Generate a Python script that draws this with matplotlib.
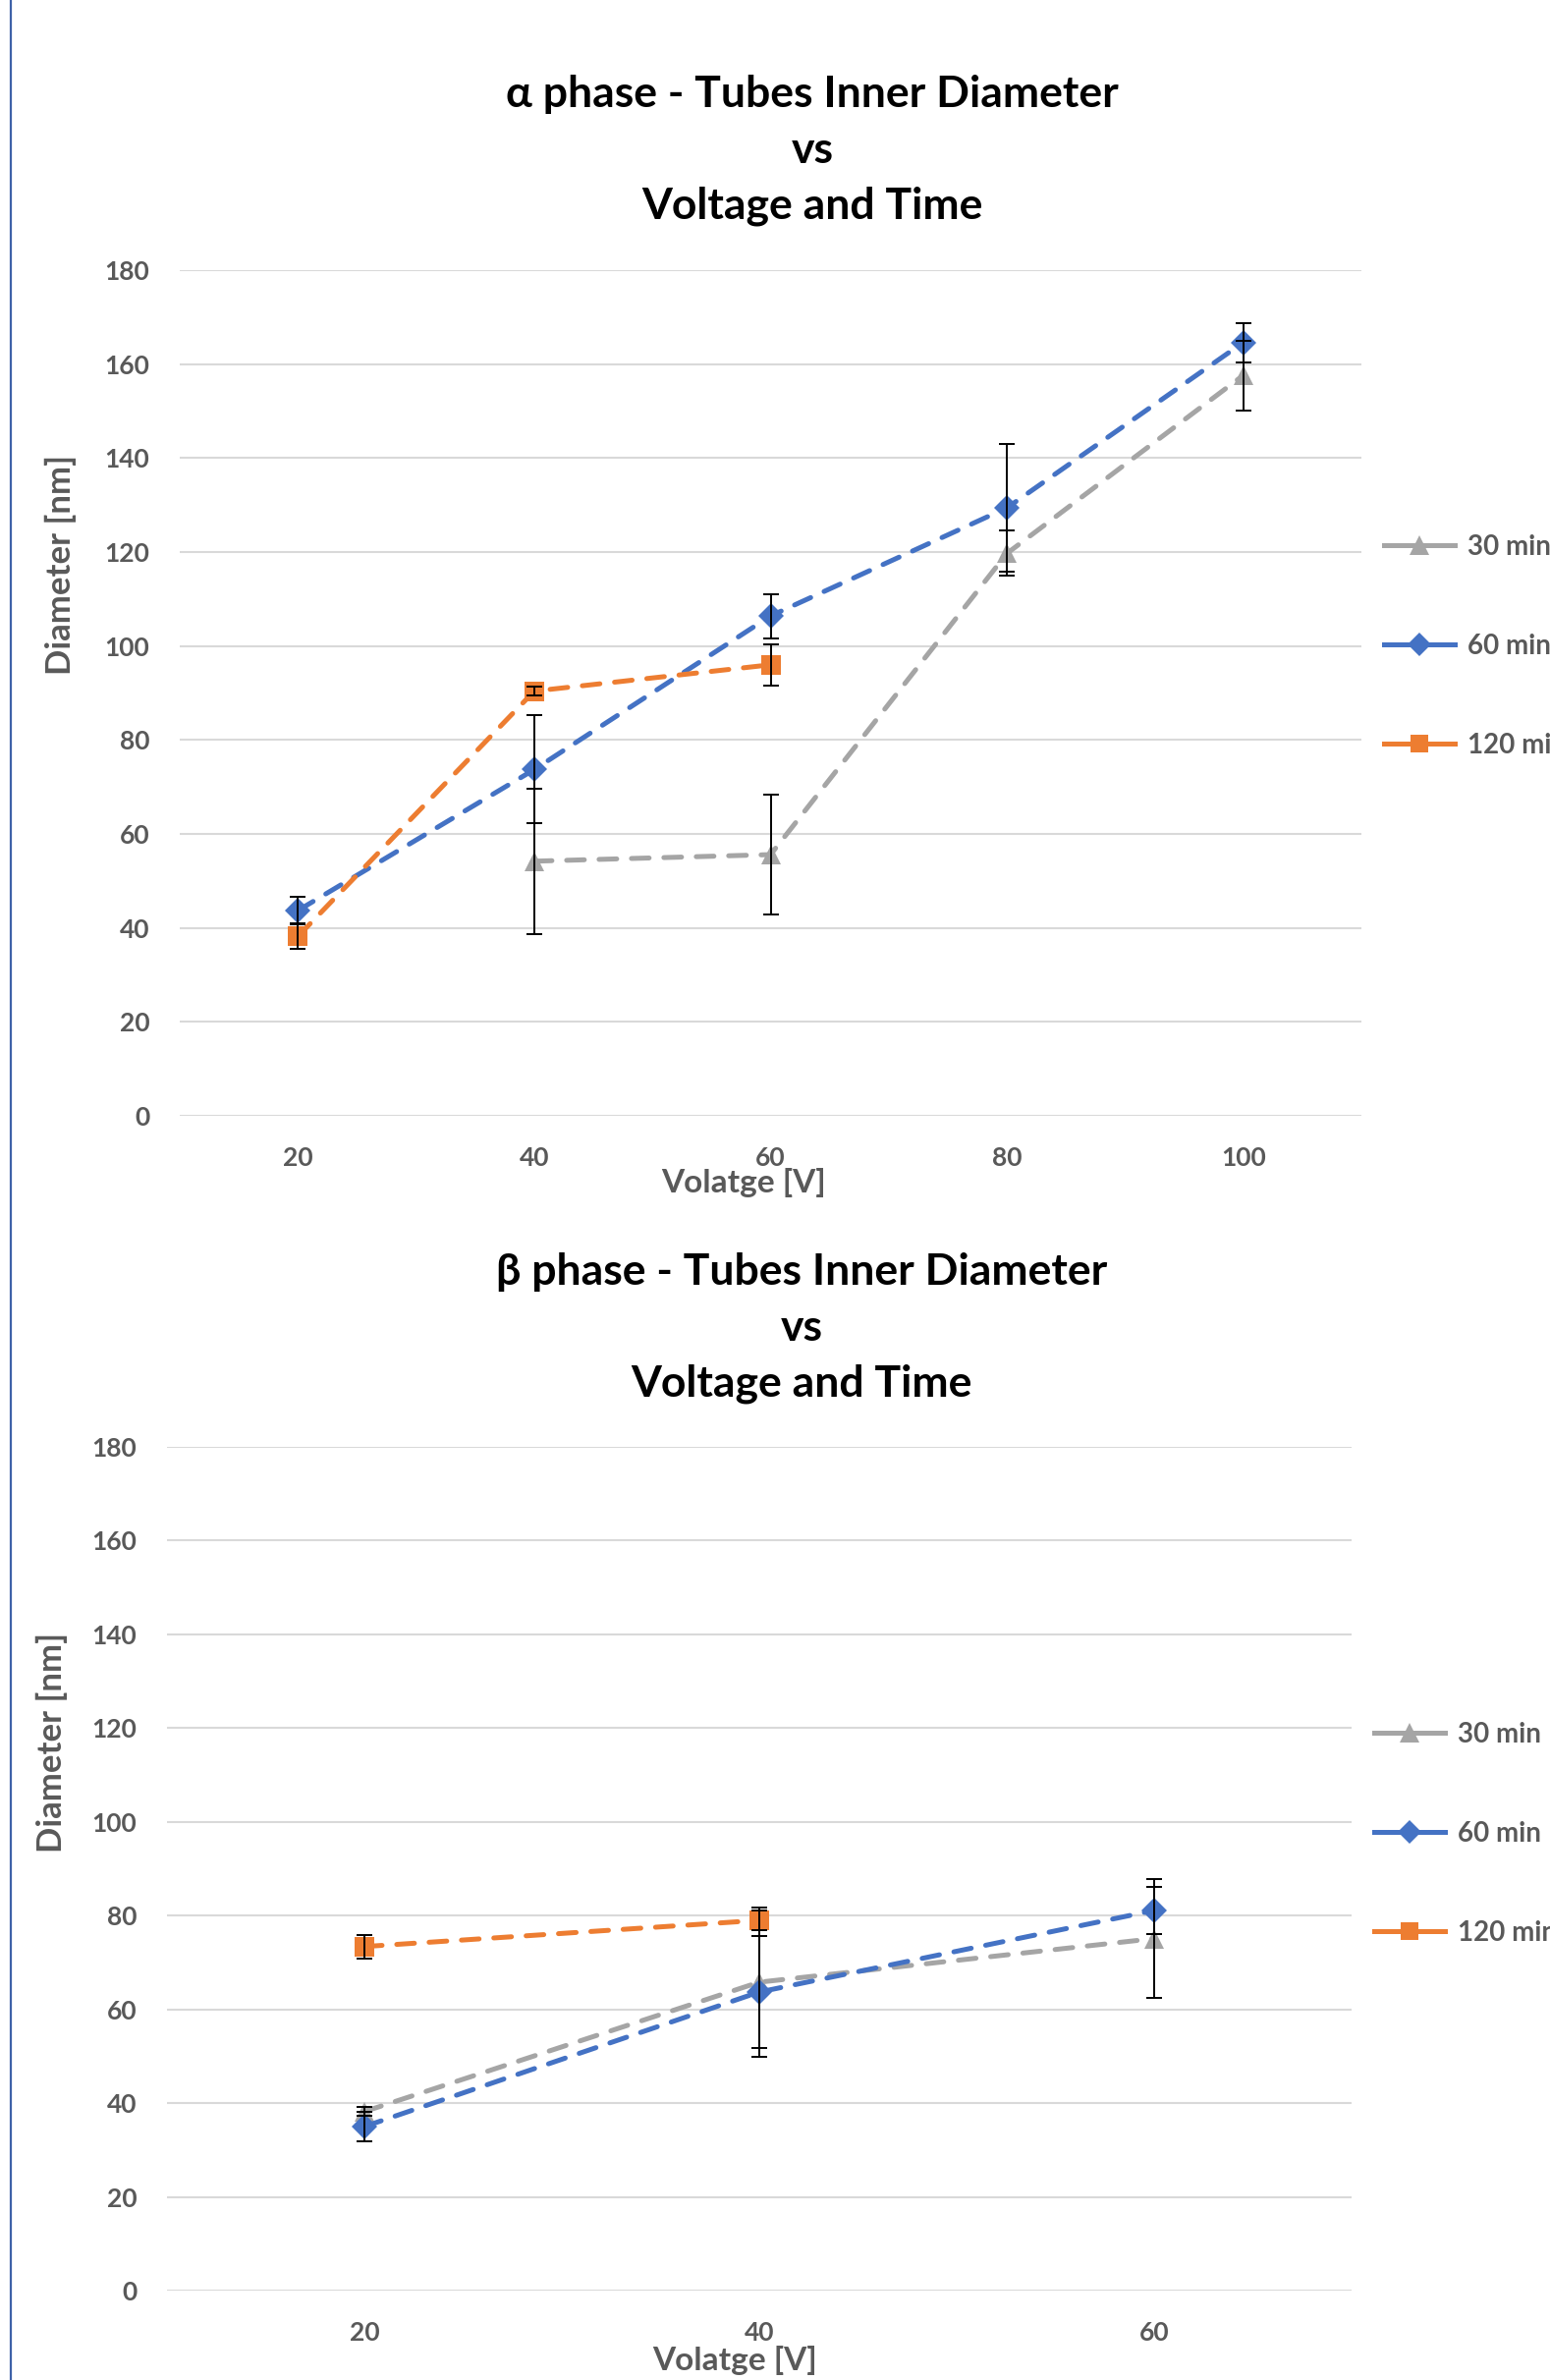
import matplotlib
matplotlib.use("Agg")
import matplotlib.pyplot as plt
from matplotlib.lines import Line2D
import numpy as np

plt.rcParams['font.family'] = ['Lato', 'DejaVu Sans']
plt.rcParams['font.weight'] = 'bold'

# alpha phase data
a_volts = ['20', '40', '60', '80', '100']
a_30_x = [1, 2, 3, 4]
a_30 = [54.2, 55.6, 119.7, 157.6]
a_30_err = [15.5, 12.8, 4.8, 7.4]
a_60_x = [0, 1, 2, 3, 4]
a_60 = [43.7, 73.7, 106.4, 129.4, 164.6]
a_60_err = [3.0, 11.5, 4.7, 13.5, 4.2]
a_120_x = [0, 1, 2]
a_120 = [38.2, 90.4, 96.0]
a_120_err = [2.7, 1.0, 4.4]

# beta phase data
b_volts = ['20', '40', '60']
b_30_x = [0, 1, 2]
b_30 = [38.2, 65.8, 75.1]
b_30_err = [1.0, 16.0, 12.6]
b_60_x = [0, 1, 2]
b_60 = [35.0, 63.7, 81.1]
b_60_err = [3.1, 12.0, 5.0]
b_120_x = [0, 1]
b_120 = [73.4, 79.0]
b_120_err = [2.5, 2.0]

labels = ['30 min', '60 min', '120 min']
colors = ['#A5A5A5', '#4472C4', '#ED7D31']
markers = ['^', 'D', 's']
msizes = [15, 13, 14]
txtgray = '#595959'

W, H = 1578, 2423
fig = plt.figure(figsize=(W/100, H/100), dpi=100)

# blue border line on the left
fig.add_artist(Line2D([11/W, 11/W], [0, 1], color='#3F62A8', lw=1.6, transform=fig.transFigure))


def draw(ax, cats, series, leg_xy):
    handles = []
    for (xs, ys, es), lab, c, m, ms in zip(series, labels, colors, markers, msizes):
        ax.plot(xs, ys, color=c, lw=3.6, ls=(0, (3.6, 3.0)), dash_capstyle='round',
                marker=m, markersize=ms, markeredgewidth=0, zorder=3)
        ax.errorbar(xs, ys, yerr=es, fmt='none', ecolor='black', elinewidth=1.4,
                    capsize=6, capthick=1.4, zorder=4)
        handles.append(Line2D([], [], color=c, lw=3.6, marker=m, markersize=ms - 1,
                              markeredgewidth=0, label=lab))
    ax.set_xlim(-0.5, len(cats) - 0.5)
    ax.set_ylim(0, 180)
    ax.set_yticks(np.arange(0, 181, 20))
    ax.set_xticks(range(len(cats)))
    ax.set_xticklabels(cats)
    ax.grid(axis='y', color='#D9D9D9', lw=1.5)
    ax.set_axisbelow(True)
    for s in ax.spines.values():
        s.set_visible(False)
    ax.tick_params(axis='y', length=0, pad=22, labelsize=19, labelcolor=txtgray)
    ax.tick_params(axis='x', length=0, pad=22, labelsize=19, labelcolor=txtgray)
    ax.legend(handles=handles, loc='center left', bbox_to_anchor=leg_xy,
              bbox_transform=fig.transFigure, frameon=False, fontsize=20,
              handlelength=2.6, handletextpad=0.45, labelspacing=2.7,
              borderpad=0, borderaxespad=0, labelcolor=txtgray)


ax1 = fig.add_axes([183/W, 1 - 1136/H, (1386-183)/W, (1136-275)/H])
draw(ax1, a_volts, [(a_30_x, a_30, a_30_err), (a_60_x, a_60, a_60_err),
                    (a_120_x, a_120, a_120_err)], (1409/W, 1 - 658/H))

ax2 = fig.add_axes([170/W, 1 - 2332/H, (1376-170)/W, (2332-1473)/H])
draw(ax2, b_volts, [(b_30_x, b_30, b_30_err), (b_60_x, b_60, b_60_err),
                    (b_120_x, b_120, b_120_err)], (1399/W, 1 - 1867/H))

# titles
fig.text(827/W, 1 - 153/H, 'α phase - Tubes Inner Diameter\nvs\nVoltage and Time',
         ha='center', va='center', fontsize=32, fontweight='bold', linespacing=1.5)
fig.text(816/W, 1 - 1352/H, 'β phase - Tubes Inner Diameter\nvs\nVoltage and Time',
         ha='center', va='center', fontsize=32, fontweight='bold', linespacing=1.5)

# axis labels
fig.text(757/W, 1 - 1204/H, 'Volatge [V]', ha='center', va='center', fontsize=24,
         color=txtgray, fontweight='bold')
fig.text(748/W, 1 - 2403/H, 'Volatge [V]', ha='center', va='center', fontsize=24,
         color=txtgray, fontweight='bold')
fig.text(62/W, 1 - 575/H, 'Diameter [nm]', ha='center', va='center', fontsize=25,
         color=txtgray, fontweight='bold', rotation=90)
fig.text(53/W, 1 - 1774/H, 'Diameter [nm]', ha='center', va='center', fontsize=25,
         color=txtgray, fontweight='bold', rotation=90)

fig.savefig('out.png', dpi=100)
